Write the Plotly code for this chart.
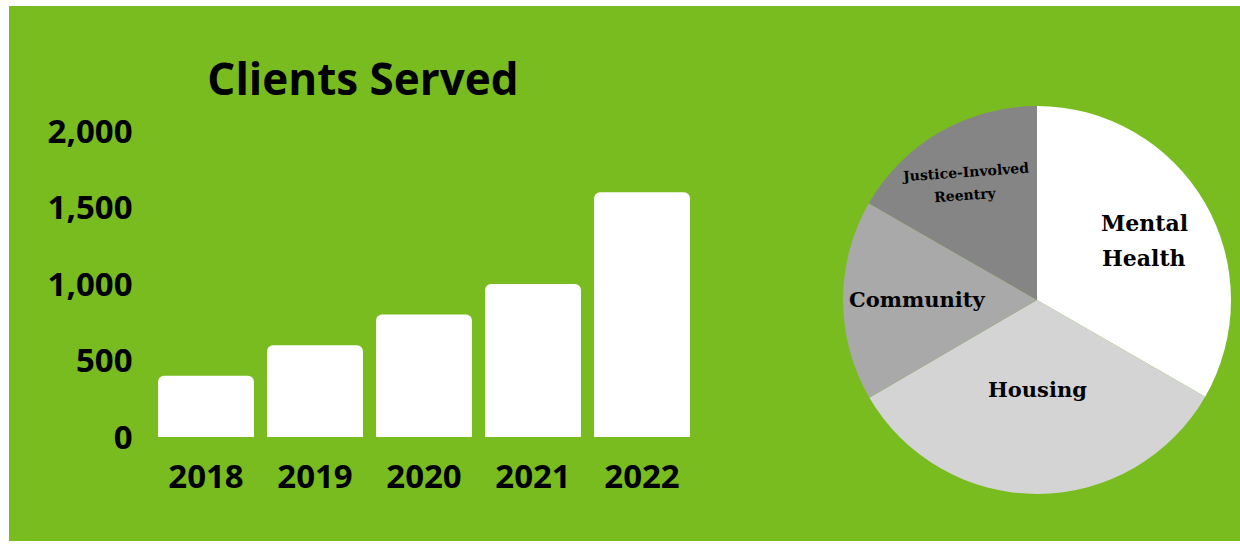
import plotly.graph_objects as go

# ---- data ----
years = ["2018", "2019", "2020", "2021", "2022"]
clients = [400, 600, 800, 1000, 1600]

program_labels = ["Mental Health", "Housing", "Community", "Justice-Involved Reentry"]
program_share = [33.3, 33.3, 16.7, 16.7]
program_lines = [["Mental", "Health"], ["Housing"], ["Community"], ["Justice-Involved", "Reentry"]]

y_ticks = [0, 500, 1000, 1500, 2000]

# ---- styling ----
W, H = 1240, 545
GREEN = "#78BC1F"
slice_colors = ["#FFFFFF", "#D4D4D4", "#A9A9A9", "#858585"]

def px_x(x):
    return x / W

def px_y(y):
    return 1 - y / H

fig = go.Figure()

fig.add_trace(go.Bar(
    x=years, y=clients,
    marker=dict(color="white", line=dict(width=0), cornerradius=6),
    xaxis="x", yaxis="y", hoverinfo="skip", showlegend=False,
))

fig.add_trace(go.Pie(
    labels=program_labels, values=program_share,
    marker=dict(colors=slice_colors, line=dict(width=0)),
    sort=False, direction="clockwise", rotation=0,
    textinfo="none", hoverinfo="skip", showlegend=False, automargin=False,
    domain=dict(x=[px_x(843), px_x(1231)], y=[px_y(494), px_y(106)]),
))

tick_font = dict(family="Open Sans", size=33, color="black", weight=700)

fig.update_layout(
    width=W, height=H,
    margin=dict(l=0, r=0, t=0, b=0, pad=0, autoexpand=False),
    paper_bgcolor="white",
    plot_bgcolor="rgba(0,0,0,0)",
    bargap=0.12,
    xaxis=dict(
        domain=[px_x(151.5), px_x(696.5)], automargin=False,
        tickfont=tick_font, showgrid=False, zeroline=False, showline=False,
        ticks="", ticklabelstandoff=17, fixedrange=True,
    ),
    yaxis=dict(
        domain=[px_y(437), px_y(131)], range=[0, 2000], automargin=False,
        tickvals=y_ticks, tickformat=",d",
        tickfont=tick_font, showgrid=False, zeroline=False, showline=False,
        ticks="", ticklabelstandoff=18, fixedrange=True,
    ),
    title=dict(
        text="Clients Served", automargin=False,
        font=dict(family="Open Sans", size=44, color="black", weight=700),
        x=px_x(363), xanchor="center", xref="paper",
        y=px_y(80), yanchor="middle", yref="container",
    ),
    shapes=[dict(
        type="rect", xref="paper", yref="paper",
        x0=px_x(9), x1=1.0, y0=px_y(541), y1=px_y(6),
        fillcolor=GREEN, line=dict(width=0), layer="below",
    )],
)

# pie labels: (center x, first line y, line spacing, font size, angle) per slice
label_pos = [(1144, 223, 35, 22, 0), (1037, 389, 0, 21, 0), (917, 299, 0, 21, 0), (965, 172, 23, 14, -4)]
for lines, (lx, ly, dy, fs, ang) in zip(program_lines, label_pos):
    for i, line in enumerate(lines):
        fig.add_annotation(
            text="<b>" + line + "</b>", x=px_x(lx), y=px_y(ly + i * dy),
            xref="paper", yref="paper",
            xanchor="center", yanchor="middle", showarrow=False, textangle=ang,
            font=dict(family="DejaVu Serif", size=fs, color="black"),
        )

page_fix = (
    "document.documentElement.style.margin='0';document.documentElement.style.padding='0';"
    "document.body.style.margin='0';document.body.style.padding='0';"
    "document.documentElement.style.overflow='hidden';document.body.style.overflow='hidden';"
)

fig.write_html("out.html", config={"displayModeBar": False}, post_script=page_fix)
